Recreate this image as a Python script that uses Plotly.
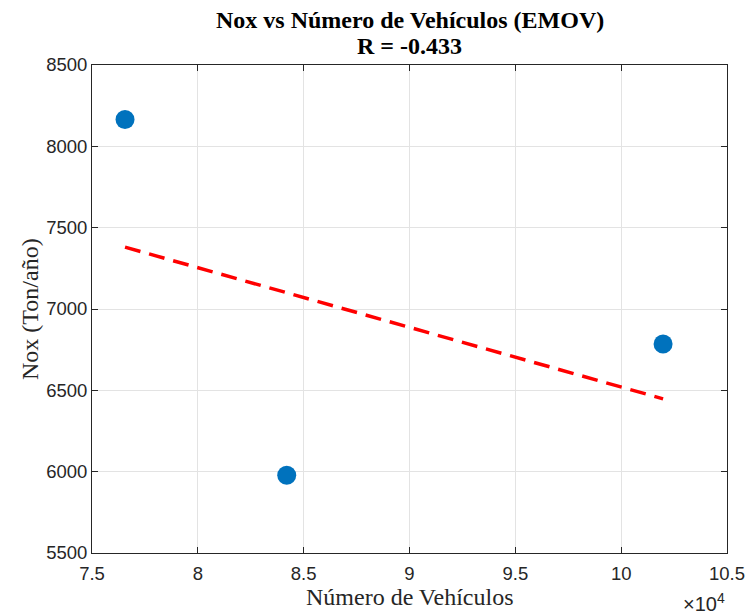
import numpy as np
import plotly.graph_objects as go

vehiculos = [76560, 84200, 101980]
nox = [8165, 5978, 6785]
x_ticks = [75000, 80000, 85000, 90000, 95000, 100000, 105000]
x_tick_labels = ["7.5", "8", "8.5", "9", "9.5", "10", "10.5"]
y_ticks = [5500, 6000, 6500, 7000, 7500, 8000, 8500]
title_line1 = "Nox vs Número de Vehículos (EMOV)"
title_line2 = "R = -0.433"
x_title = "Número de Vehículos"
y_title = "Nox (Ton/año)"

slope, intercept = np.polyfit(vehiculos, nox, 1)
fit_x = np.array([min(vehiculos), max(vehiculos)])
fit_y = slope * fit_x + intercept

L, R, T, B = 92, 22, 65, 63
W, H = 749, 616
pw, ph = W - L - R, H - T - B

def py(p):
    return (H - B - p) / ph

def px(p):
    return (p - L) / pw

fig = go.Figure()
fig.add_trace(go.Scatter(x=vehiculos, y=nox, mode="markers",
                         marker=dict(size=19, color="#0072BD"), showlegend=False))
fig.add_trace(go.Scatter(x=fit_x, y=fit_y, mode="lines",
                         line=dict(color="#FF0000", width=3.5, dash="16px,9px"), showlegend=False))

axis_common = dict(showgrid=True, gridcolor="#E3E3E3", gridwidth=1,
                   showline=True, linecolor="#262626", linewidth=1, mirror="ticks",
                   ticks="inside", ticklen=6, tickcolor="#262626", zeroline=False,
                   automargin=False,
                   tickfont=dict(family="Liberation Sans, Arial", size=18.5, color="#262626"))

fig.update_layout(
    width=W, height=H,
    paper_bgcolor="white", plot_bgcolor="white",
    margin=dict(l=L, r=R, t=T, b=B),
    xaxis=dict(range=[75000, 105000], tickvals=x_ticks, ticktext=x_tick_labels,
               ticklabelstandoff=4, **axis_common),
    yaxis=dict(range=[5500, 8500], tickvals=y_ticks, **axis_common),
)

serif = "Liberation Serif, Times New Roman"
fig.add_annotation(text="<b>" + title_line1 + "</b>", xref="paper", yref="paper",
                   x=0.5, y=py(20), xanchor="center", yanchor="middle", showarrow=False,
                   font=dict(family=serif, size=24, color="black"))
fig.add_annotation(text="<b>" + title_line2 + "</b>", xref="paper", yref="paper",
                   x=0.5, y=py(46), xanchor="center", yanchor="middle", showarrow=False,
                   font=dict(family=serif, size=24, color="black"))
fig.add_annotation(text=x_title, xref="paper", yref="paper",
                   x=0.5, y=py(597), xanchor="center", yanchor="middle", showarrow=False,
                   font=dict(family=serif, size=24, color="#262626"))
fig.add_annotation(text=y_title, xref="paper", yref="paper", textangle=-90,
                   x=px(30), y=0.5, xanchor="center", yanchor="middle", showarrow=False,
                   font=dict(family=serif, size=24, color="#262626"))
fig.add_annotation(text="×10<sup>4</sup>", xref="paper", yref="paper", x=1.0, y=py(602),
                   xanchor="right", yanchor="middle", showarrow=False,
                   font=dict(family="Liberation Sans, Arial", size=20, color="#262626"))

fig.write_html("out.html", config={"displayModeBar": False},
               post_script="document.body.style.margin='0';document.body.style.overflow='hidden';")
